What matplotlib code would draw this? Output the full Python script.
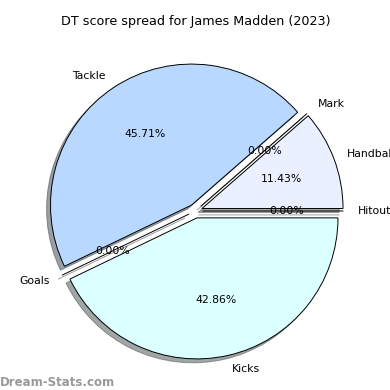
import matplotlib
matplotlib.use("Agg")
import matplotlib.pyplot as plt

labels = ["Hitout", "Handball", "Mark", "Tackle", "Goals", "Kicks"]
values = [0, 4, 0, 16, 0, 15]
colors = ["#d0d0d0", "#eaf0ff", "#cce0ff", "#b8d8ff", "#cccccc", "#dcffff"]
explode = [0.05] * len(values)

fig = plt.figure(figsize=(3.9, 3.9), dpi=100)
ax = fig.add_axes([0.049, 0.007, 0.904, 0.904])
ax.pie(values, labels=labels, colors=colors, explode=explode, autopct="%1.2f%%",
       startangle=0, shadow=True, wedgeprops=dict(edgecolor="black", linewidth=0.7),
       textprops=dict(fontsize=7.8))
ax.set_title("DT score spread for James Madden (2023)", fontsize=9.2, pad=7)
fig.text(0.0, 0.01, "Dream-Stats.com", color="#999999", fontsize=8.5, fontweight="bold")
fig.savefig("out.png", dpi=100)
